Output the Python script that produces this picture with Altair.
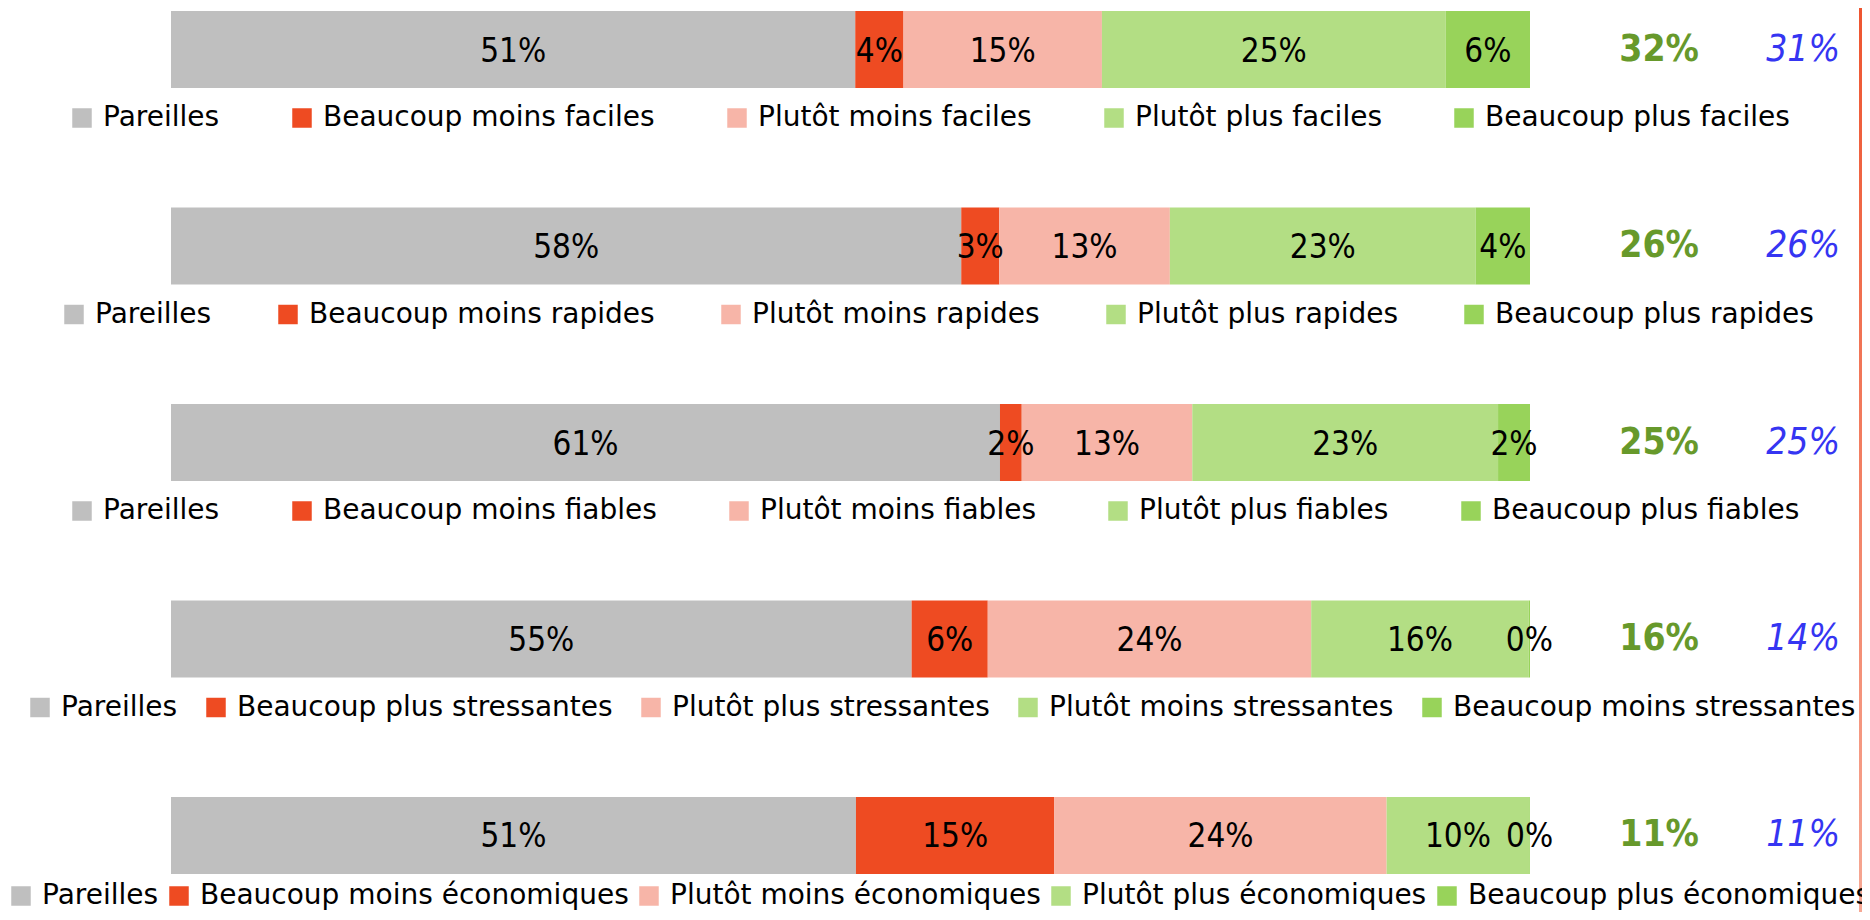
import altair as alt
import pandas as pd

# ---------------- data ----------------
rows = ["faciles", "rapides", "fiables", "stressantes", "economiques"]

categories = [
    ["Pareilles", "Beaucoup moins faciles", "Plutôt moins faciles", "Plutôt plus faciles", "Beaucoup plus faciles"],
    ["Pareilles", "Beaucoup moins rapides", "Plutôt moins rapides", "Plutôt plus rapides", "Beaucoup plus rapides"],
    ["Pareilles", "Beaucoup moins fiables", "Plutôt moins fiables", "Plutôt plus fiables", "Beaucoup plus fiables"],
    ["Pareilles", "Beaucoup plus stressantes", "Plutôt plus stressantes", "Plutôt moins stressantes", "Beaucoup moins stressantes"],
    ["Pareilles", "Beaucoup moins économiques", "Plutôt moins économiques", "Plutôt plus économiques", "Beaucoup plus économiques"],
]

values = [
    [50.35, 3.55, 14.6, 25.3, 6.2],
    [58.15, 2.8, 12.55, 22.5, 4.0],
    [61.0, 1.6, 12.55, 22.5, 2.35],
    [54.5, 5.6, 23.8, 16.0, 0.1],
    [50.4, 14.6, 24.45, 10.5, 0.05],
]

pct_labels = [
    ["51%", "4%", "15%", "25%", "6%"],
    ["58%", "3%", "13%", "23%", "4%"],
    ["61%", "2%", "13%", "23%", "2%"],
    ["55%", "6%", "24%", "16%", "0%"],
    ["51%", "15%", "24%", "10%", "0%"],
]

green_labels = ["32%", "26%", "25%", "16%", "11%"]
blue_labels = ["31%", "26%", "25%", "14%", "11%"]

colors = ["#BFBFBF", "#EE4B22", "#F7B5A8", "#B3DE84", "#98D35A"]

# legend layout per row (offsets relative to the plot area, spacing between entries)
legend_x = [-103, -111, -103, -145, -164]
legend_dy = [4, 4, 4, 4, -4]
legend_gap = [68, 62, 68, 24, 6]

NARROW = "Liberation Sans Narrow, DejaVu Sans Condensed, Liberation Sans"

# ---------------- build tables ----------------
seg_rows = []
for r, (cats, vals, labs) in enumerate(zip(categories, values, pct_labels)):
    start = 0.0
    for k, (c, v, l) in enumerate(zip(cats, vals, labs)):
        seg_rows.append({"row": rows[r], "cat": c, "start": start, "end": start + v,
                         "mid": start + v / 2, "label": l, "order": k})
        start += v
seg = pd.DataFrame(seg_rows)

side = pd.DataFrame({"row": rows, "green": green_labels, "blue": blue_labels})

W, H = 1359, 863
x_scale = alt.Scale(domain=[0, 100], nice=False, zero=False)
y_scale = alt.Scale(domain=rows, paddingInner=0.608, paddingOuter=0)
Y = alt.Y("row:N", scale=y_scale, axis=None)

bar_layers = []
for r in range(len(rows)):
    d = seg[seg["row"] == rows[r]]
    layer = alt.Chart(d).mark_rect().encode(
        x=alt.X("start:Q", scale=x_scale, axis=None),
        x2="end:Q",
        y=Y,
        color=alt.Color(
            "cat:N",
            scale=alt.Scale(domain=categories[r], range=colors),
            legend=alt.Legend(
                title=None,
                orient="none",
                legendX=legend_x[r],
                legendY=89 + legend_dy[r] + r * 196.5,
                direction="horizontal",
                columns=5,
                columnPadding=legend_gap[r],
                symbolType="square",
                symbolSize=380,
                symbolStrokeWidth=0,
                symbolOpacity=1,
                labelFont="DejaVu Sans",
                labelFontSize=28,
                labelColor="#000000",
                labelOffset=7,
                labelLimit=2000,
                padding=0,
            ),
        ),
    )
    bar_layers.append(layer)

pct_text = alt.Chart(seg).mark_text(
    font=NARROW, fontSize=33, color="#000000", baseline="middle", align="center", dy=2,
).encode(
    x=alt.X("mid:Q", scale=x_scale, axis=None),
    y=Y,
    text="label:N",
)

green_text = alt.Chart(side).mark_text(
    font=NARROW, fontSize=37, fontWeight="bold", color="#67992B",
    baseline="middle", align="center", dy=0,
).encode(
    x=alt.X(datum=109.5, scale=x_scale, axis=None),
    y=Y,
    text="green:N",
)

blue_text = alt.Chart(side).mark_text(
    font=NARROW, fontSize=37, fontStyle="italic", color="#3535F2",
    baseline="middle", align="center", dy=0,
).encode(
    x=alt.X(datum=120.1, scale=x_scale, axis=None),
    y=Y,
    text="blue:N",
)

border = alt.Chart(pd.DataFrame({"k": [0]})).mark_rect(
    fill=alt.LinearGradient(
        gradient="linear",
        stops=[alt.GradientStop(color="#EE5530", offset=0),
               alt.GradientStop(color="#F6A894", offset=1)],
        x1=0, x2=0, y1=0, y2=1,
    )
).encode(
    x=alt.value(1688), x2=alt.value(1691),
    y=alt.value(-3), y2=alt.value(901),
)

chart = alt.layer(*bar_layers, pct_text, green_text, blue_text, border).resolve_scale(
    color="independent"
).properties(
    width=W, height=H,
    background="white",
    autosize=alt.AutoSizeParams(type="none"),
    padding={"left": 163, "top": 3, "right": 332, "bottom": 38},
).configure_view(stroke=None, strokeWidth=0)

chart.save("out.html", embed_options={"renderer": "svg", "actions": False})
